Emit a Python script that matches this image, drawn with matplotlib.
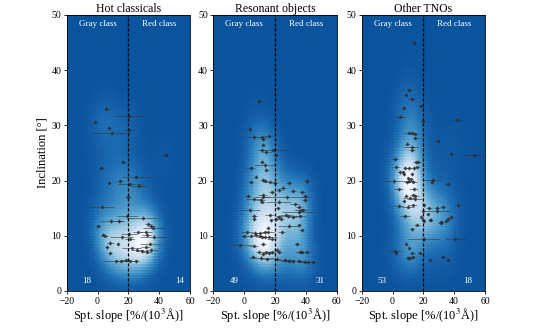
import numpy as np
import matplotlib
matplotlib.use("Agg")
import matplotlib.pyplot as plt
from matplotlib.colors import ListedColormap

plt.rcParams['font.family'] = ['Liberation Serif', 'DejaVu Serif']
plt.rcParams['mathtext.fontset'] = 'stix'

titles = ["Hot classicals", "Resonant objects", "Other TNOs"]
gray_counts = [18, 49, 53]
red_counts = [14, 31, 18]
class_boundary = 20

# Hot classicals: (slope, inclination, slope error)
hc_x = [5.8, 20.5, -1.4, 7.5, 20.5, 9.2, 44.3, 16.4, 2.5, 25.2, 7.5, 14.4, 20.9, 26.6, 19.8,
        2.9, 19.4, 29.4, 9.0, 14.0, 0.3, 32.6, 35.0, 36.3, 3.6, 5.1, 20.3, 26.1, 31.3, 32.0,
        36.5, 15.7, 20.9, 8.4, 13.1, 34.3, 6.2, 31.3, 22.2, 25.5, 29.0, 32.0, 35.0, 8.1,
        11.8, 15.1, 18.3, 20.9, 24.8]
hc_y = [33.0, 31.7, 30.6, 29.5, 29.2, 28.7, 24.6, 23.3, 22.2, 20.7, 19.6, 19.9, 19.3, 19.1, 17.1,
        15.3, 13.6, 13.2, 12.7, 12.7, 11.7, 12.1, 11.8, 11.5, 10.2, 10.0, 10.3, 10.6, 10.6, 10.2,
        9.8, 9.7, 9.5, 8.7, 8.5, 8.6, 7.9, 8.0, 7.7, 7.5, 7.2, 7.1, 7.4, 6.8,
        5.4, 5.4, 5.6, 5.4, 5.4]
hc_xerr = [2, 9.4, 1.5, 1.5, 3, 13, 2, 2, 1.5, 9.5, 1, 2, 8.4, 5, 2,
           7.8, 7, 10, 7.5, 3, 2, 2, 2, 6.7, 1.5, 1.5, 5, 3, 4, 3,
           8.7, 7.6, 3, 2, 1, 7, 1.5, 3, 6, 4, 4, 3, 4, 1,
           8, 4, 3, 4, 2]

# Resonant objects
res_x = [9.8, 3.6, 6.6, 11.6, 15.9, 12.0, 12.2, 11.8, 18.7, 14.4, 20.4, 11.6, 13.7, 4.2, 14.4,
         7.5, 12.4, 13.5, 16.9, 4.2, 20.2, 29.3, 40.5, 25.2, 22.4, 31.5, 37.3, 18.2, 12.0, 2.5,
         12.0, 28.0, 39.6, 10.7, 11.8, 6.4, 39.6, 22.4, 32.8, 35.7, 21.7, 3.8, 36.6, 37.9, 35.3,
         6.4, 16.7, 22.8, 27.1, 28.4, 31.4, 36.4, 6.4, 20.8, 23.9, 17.4, 28.9, 15.6, 35.7,
         1.8, 7.2, 10.1, 13.5, 15.6, 24.3, 37.3, -0.1, 4.2, 7.5, 10.3, 11.6, 13.5, 16.3, 18.0,
         12.4, 6.2, -2.5, 34.4, 21.3, 9.6, 14.4, 16.1, 17.8, 22.8, 36.0, 37.7, 40.5, 12.0, 5.9,
         11.1, 14.6, 21.1, 26.3, 29.3, 31.7, 35.7, 39.2, 41.2, 44.8]
res_y = [34.4, 29.3, 27.9, 27.9, 28.0, 27.5, 26.5, 25.5, 25.5, 25.1, 24.6, 23.4, 22.8, 22.3, 21.9,
         20.7, 20.1, 20.0, 19.8, 19.7, 19.6, 19.6, 19.9, 18.7, 18.3, 18.2, 17.9, 17.9, 17.4, 17.3,
         17.0, 17.0, 17.2, 16.5, 16.2, 16.6, 16.5, 16.1, 15.7, 15.3, 15.0, 14.7, 14.6, 14.6, 14.3,
         13.6, 13.7, 13.4, 13.8, 13.5, 13.4, 13.5, 13.0, 13.0, 13.0, 12.8, 11.8, 11.5, 11.9,
         10.6, 10.5, 10.5, 10.6, 10.6, 10.6, 11.0, 9.9, 10.0, 10.1, 10.0, 9.7, 9.8, 9.7, 9.5,
         8.5, 8.2, 8.3, 8.5, 7.5, 7.1, 7.0, 6.9, 7.0, 7.0, 7.1, 7.0, 7.1, 6.7, 6.2,
         6.0, 5.8, 5.8, 5.7, 5.5, 5.4, 5.5, 5.3, 5.2, 5.2]
res_xerr = [1.5, 1, 5, 3, 3, 2, 1.5, 2, 9.5, 3, 1.5, 1.5, 7, 3, 1.5,
            1, 2, 2, 3, 1.5, 2, 2, 1.5, 2, 2, 2, 2, 2, 3, 2,
            5, 15, 2, 3, 2, 5, 2, 8, 3, 2, 1.5, 6.5, 4, 3, 11,
            2, 3, 2, 4, 8, 3, 4, 1.5, 2, 2, 1.5, 7, 1.5, 1.5,
            4, 3, 3, 2, 4, 2, 1.5, 2, 3, 2, 2, 3, 2, 5, 3,
            2, 3, 7.6, 2, 2, 2, 3, 4, 2, 2, 3, 2, 2, 2, 2,
            8, 3, 3, 6, 4, 8, 3, 4, 5, 3]

# Other TNOs
oth_x = [14.2, 10.7, 8.5, 12.7, 7.2, 18.3, 4.9, 19.9, 41.9, 10.7, 12.7, 14.4, 14.9, 29.7, 9.6,
         12.4, 12.4, 38.2, 52.8, 1.3, 15.1, 16.8, 2.4, 8.3, 10.9, 13.7, 15.7, 5.0, 6.6, 7.2,
         12.4, 10.3, 12.0, 10.7, 0.7, 13.1, 9.4, 26.0, 25.5, 36.2, 3.9, 13.7, 13.4, 14.9, 8.8,
         11.1, 14.4, 7.2, 3.9, 9.8, 13.1, 20.1, 23.6, 28.8, 32.5, 42.5, 19.9, 22.7, 28.8, 37.7,
         8.1, 18.6, 19.9, 24.7, 36.2, 31.2, 20.1, 24.0, 31.2, 34.9, 15.7, 12.7,
         20.5, 40.6, 8.8, 10.9, 1.3, 2.2, 12.9, 17.9, 9.8, 11.1, 13.1, 32.5, 36.0, 24.5]
oth_y = [44.9, 36.4, 35.5, 34.8, 33.1, 33.5, 31.6, 30.8, 30.9, 28.7, 28.6, 28.5, 27.7, 27.1, 26.7,
         26.0, 25.5, 24.8, 24.7, 23.9, 23.3, 23.4, 22.5, 22.3, 22.2, 22.3, 22.4, 21.5, 21.5, 21.2,
         21.2, 20.4, 20.2, 19.9, 19.9, 19.8, 19.7, 20.1, 19.7, 19.4, 18.4, 18.5, 17.4, 17.2, 17.3,
         16.9, 16.6, 16.3, 15.4, 15.3, 15.5, 15.6, 15.0, 15.1, 15.3, 15.6, 14.5, 13.9, 14.5, 13.4,
         13.5, 13.4, 12.9, 12.9, 13.0, 12.5, 12.6, 12.8, 12.3, 12.6, 12.0, 11.2,
         9.4, 9.4, 8.5, 7.7, 7.2, 6.9, 6.8, 6.8, 6.0, 6.0, 6.1, 6.1, 5.7, 5.6]
oth_xerr = [0.5, 2, 1, 2.5, 1, 1, 3, 2, 3, 3, 2, 2, 2, 2, 1.5,
            5, 2, 1, 7.3, 2.5, 2, 1.5, 2, 1.5, 2, 1.5, 2, 1.5, 1, 1,
            1, 1, 1, 4, 6.2, 3, 2, 6, 1, 2, 3, 3, 2, 2, 1.5,
            4, 5, 1, 3, 4, 3, 1, 2, 2, 2, 2, 1, 1, 9, 2,
            3, 1, 1, 1, 2, 2, 1, 1, 1.5, 1.5, 2, 1.5,
            10.4, 6.8, 1, 1, 4, 1, 1.5, 2, 2, 2, 2, 2, 1, 1]

datasets = [(hc_x, hc_y, hc_xerr), (res_x, res_y, res_xerr), (oth_x, oth_y, oth_xerr)]
gray_pos = [(-7, 1.8), (-6.4, 1.8), (-6.9, 1.8)]
red_pos = [(53.6, 1.8), (49.2, 1.8), (49.0, 1.8)]

cmap = ListedColormap(plt.cm.Blues(np.linspace(0.86, 0.0, 256)))

fig = plt.figure(figsize=(5.38, 3.31), dpi=100)
lefts = [66.7 / 538, 213.3 / 538, 361.7 / 538]
width = 123.3 / 538
bottom = 1 - 291 / 331
height = (291 - 15) / 331

gx = np.linspace(-20, 60, 51)
gy = np.linspace(0, 50, 101)
cx = 0.5 * (gx[1:] + gx[:-1])
cy = 0.5 * (gy[1:] + gy[:-1])
CX, CY = np.meshgrid(cx, cy)

for i, (xs, ys, xe) in enumerate(datasets):
    ax = fig.add_axes([lefts[i], bottom, width, height])
    xs = np.asarray(xs); ys = np.asarray(ys); xe = np.asarray(xe)
    dens = np.zeros_like(CX)
    for x0, y0, e in zip(xs, ys, xe):
        sx = np.sqrt(6.0 ** 2 + (0.6 * e) ** 2)
        sy = 3.5
        dens += np.exp(-0.5 * ((CX - x0) / sx) ** 2 - 0.5 * ((CY - y0) / sy) ** 2) / sx
    dens /= dens.max()
    dens = dens ** 1.6
    ax.pcolormesh(gx, gy, dens, cmap=cmap, vmin=0, vmax=1, shading='flat',
                  edgecolors='face', linewidth=0.1)
    ax.errorbar(xs, ys, xerr=xe, yerr=0.3, fmt='o', ms=1.4, color='#2b2b2b',
                ecolor='#3a3a3a', elinewidth=0.7, alpha=0.6, capsize=0)
    ax.axvline(class_boundary, color='black', ls='--', lw=0.9, dashes=(2.5, 1.5))
    ax.set_xlim(-20, 60)
    ax.set_ylim(0, 50)
    ax.set_xticks([-20, 0, 20, 40, 60])
    ax.set_yticks([0, 10, 20, 30, 40, 50])
    ax.tick_params(labelsize=7, length=2.5, width=0.6, pad=1.5)
    for s in ax.spines.values():
        s.set_linewidth(0.6)
    ax.set_title(titles[i], fontsize=8.5, pad=2)
    ax.set_xlabel(r"Spt. slope [%/(10$^3$Å)]", fontsize=9, labelpad=1)
    if i == 0:
        ax.set_ylabel("Inclination [°]", fontsize=9, labelpad=2)
    ax.text(0, 48.3, "Gray class", color='white', fontsize=6.5, ha='center', va='center')
    ax.text(40, 48.3, "Red class", color='white', fontsize=6.5, ha='center', va='center')
    ax.text(gray_pos[i][0], gray_pos[i][1], str(gray_counts[i]), color='white', fontsize=6.5,
            ha='center', va='center')
    ax.text(red_pos[i][0], red_pos[i][1], str(red_counts[i]), color='white', fontsize=6.5,
            ha='center', va='center')

fig.savefig("out.png", dpi=100)
